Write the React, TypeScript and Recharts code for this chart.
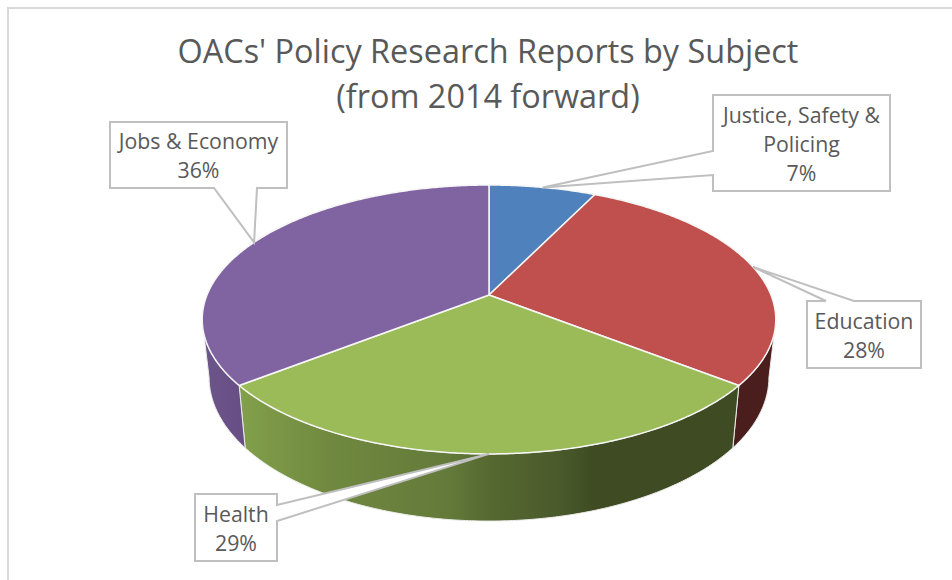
import { Cell, Pie, PieChart } from "recharts";

const categories = ["Justice, Safety & Policing", "Education", "Health", "Jobs & Economy"];
const shares = [7.2, 28.4, 28.8, 35.6];
const sliceColors = ["#4f81bd", "#c0504d", "#9bbb59", "#8064a2"];
const wallFills = ["#3a5a80", "#4a1e1c", "url(#healthWall)", "url(#jobsWall)"];
const labelLines = [["Justice, Safety &", "Policing"], ["Education"], ["Health"], ["Jobs & Economy"]];
const titleLines = ["OACs' Policy Research Reports by Subject", "(from 2014 forward)"];

const chartData = categories.map((name, i) => ({ name, value: shares[i] }));

// callout boxes: x, y, w, h, side the wedge leaves from, wedge base start/end
const callouts = [
  { x: 713, y: 95, w: 177, h: 96, side: "left", a: 175, b: 151 },
  { x: 807, y: 301, w: 114, h: 67, side: "top", a: 826, b: 854 },
  { x: 195, y: 494, w: 82, h: 67, side: "right", a: 505, b: 521 },
  { x: 110, y: 122, w: 177, h: 66, side: "bottom", a: 257, b: 214 },
];

// 3D look of the Excel pie: perspective on the disc, then a lower ring for the wall
const PERSPECTIVE = 0.182;
const TILT = 130 / 282;
const WALL_SHIFT = 56;
const WALL_SCALE_X = 0.976;
const WALL_SCALE_Y = 1.07;

const RAD = Math.PI / 180;

const project = (cx: number, cy: number, r: number, deg: number) => {
  const u = Math.cos(deg * RAD);
  const v = Math.sin(deg * RAD);
  const d = 1 + PERSPECTIVE * v;
  return { x: cx + (r * u) / d, y: cy - (r * TILT * v) / d, v };
};

const lower = (cx: number, cy: number, p: { x: number; y: number }) => ({
  x: cx + (p.x - cx) * WALL_SCALE_X,
  y: cy + WALL_SHIFT + (p.y - cy) * WALL_SCALE_Y,
});

const toPath = (pts: { x: number; y: number }[]) =>
  pts.map((p, i) => `${i ? "L" : "M"}${p.x.toFixed(2)},${p.y.toFixed(2)}`).join(" ") + " Z";

const PieSlice = (props: any) => {
  const { cx, cy, outerRadius, startAngle, endAngle, fill, index } = props;
  const rim = [];
  const steps = Math.max(2, Math.ceil(Math.abs(endAngle - startAngle) * 2));
  for (let i = 0; i <= steps; i++) {
    rim.push(project(cx, cy, outerRadius, startAngle + ((endAngle - startAngle) * i) / steps));
  }
  const front = rim.filter((p) => p.v <= -PERSPECTIVE);
  const wall = front.length > 1 ? [...front, ...[...front].reverse().map((p) => lower(cx, cy, p))] : null;
  return (
    <g>
      {wall && <path d={toPath(wall)} fill={wallFills[index]} stroke="#ececec" strokeWidth={1} />}
      <path d={toPath([{ x: cx, y: cy }, ...rim])} fill={fill} stroke="#f6f6f6" strokeWidth={1.5} strokeLinejoin="round" />
    </g>
  );
};

const calloutPath = (c: (typeof callouts)[number], tip: { x: number; y: number }) => {
  const r = c.x + c.w;
  const bt = c.y + c.h;
  const pts: { x: number; y: number }[] = [{ x: c.x, y: c.y }];
  if (c.side === "top") pts.push({ x: c.a, y: c.y }, tip, { x: c.b, y: c.y });
  pts.push({ x: r, y: c.y });
  if (c.side === "right") pts.push({ x: r, y: c.a }, tip, { x: r, y: c.b });
  pts.push({ x: r, y: bt });
  if (c.side === "bottom") pts.push({ x: c.a, y: bt }, tip, { x: c.b, y: bt });
  pts.push({ x: c.x, y: bt });
  if (c.side === "left") pts.push({ x: c.x, y: c.a }, tip, { x: c.x, y: c.b });
  return toPath(pts);
};

const SliceLabel = (props: any) => {
  const { cx, cy, outerRadius, midAngle, index, value } = props;
  const c = callouts[index];
  const tip = project(cx, cy, outerRadius, midAngle);
  const lines = [...labelLines[index], `${Math.round(value)}%`];
  return (
    <g>
      <path d={calloutPath(c, tip)} fill="#ffffff" stroke="#bfbfbf" strokeWidth={2} strokeLinejoin="miter" />
      {lines.map((line, i) => (
        <text
          key={line}
          x={c.x + c.w / 2}
          y={c.y + c.h / 2 + 8.5 + (i - (lines.length - 1) / 2) * 29}
          textAnchor="middle"
          fontSize={21.3}
          fontFamily="Open Sans"
          fill="#595959"
        >
          {line}
        </text>
      ))}
    </g>
  );
};

export default function App() {
  return (
    <div style={{ position: "absolute", left: 0, top: 0, width: 952, height: 580, overflow: "hidden", background: "#fff" }}>
      <div style={{ position: "absolute", left: 7, top: 7, width: 1000, height: 700, border: "2px solid #d9d9d9" }} />
      <div style={{ position: "absolute", left: 0, top: 0 }}>
        <PieChart width={952} height={580} margin={{ top: 0, right: 0, bottom: 0, left: 0 }}>
          <defs>
            <linearGradient id="healthWall" x1="0" y1="0" x2="1" y2="0">
              <stop offset="0" stopColor="#82a04b" />
              <stop offset="0.18" stopColor="#70893f" />
              <stop offset="0.42" stopColor="#637a3a" />
              <stop offset="0.5" stopColor="#566931" />
              <stop offset="0.64" stopColor="#4a5a2b" />
              <stop offset="0.71" stopColor="#3f4c23" />
              <stop offset="1" stopColor="#3f4c23" />
            </linearGradient>
            <linearGradient id="jobsWall" x1="0" y1="0" x2="1" y2="0">
              <stop offset="0" stopColor="#6c5589" />
              <stop offset="1" stopColor="#674f85" />
            </linearGradient>
          </defs>
          {titleLines.map((line, i) => (
            <text key={line} x={488} y={63 + i * 45} textAnchor="middle" fontSize={32.4} fontFamily="Open Sans" fill="#595959">
              {line}
            </text>
          ))}
          <Pie
            data={chartData}
            dataKey="value"
            nameKey="name"
            cx={489}
            cy={295}
            innerRadius={0}
            outerRadius={282}
            startAngle={90}
            endAngle={-270}
            stroke="none"
            shape={PieSlice}
            label={SliceLabel}
            labelLine={false}
            isAnimationActive={false}
          >
            {chartData.map((entry, i) => (
              <Cell key={entry.name} fill={sliceColors[i]} />
            ))}
          </Pie>
        </PieChart>
      </div>
    </div>
  );
}
